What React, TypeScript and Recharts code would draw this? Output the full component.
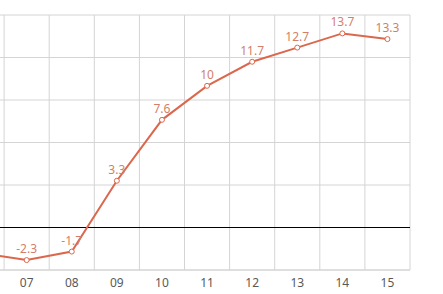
import { LineChart, Line, XAxis, YAxis, CartesianGrid, ReferenceLine, LabelList } from "recharts";

// 年份（06 只露出半截，画在左边界外，不显示文字）
const YEARS = ["06", "07", "08", "09", "10", "11", "12", "13", "14", "15"];
const VALUES = [-1.8, -2.3, -1.7, 3.3, 7.6, 10, 11.7, 12.7, 13.7, 13.3];
const Y_TICKS = [-3, 0, 3, 6, 9, 12, 15];
const HIDDEN_YEAR = "06";

const data = YEARS.map((y, i) => ({
  year: y,
  value: VALUES[i],
  label: y === HIDDEN_YEAR ? null : VALUES[i],
}));

const LINE_COLOR = "#DB674C";
const LABEL_COLOR = "#D27F69";
const GRID_COLOR = "#D4D4D4";

export default function App() {
  return (
    <div style={{ position: "fixed", top: 0, left: 0, width: 443, height: 294, overflow: "hidden", background: "#fff" }}>
      <div style={{ position: "absolute", top: 0, left: -41 }}>
        <LineChart width={461} height={295} data={data}
          margin={{ top: 15, right: 10, left: 0, bottom: 0 }}
          style={{ fontFamily: "'Noto Sans', sans-serif" }}>
          {/* 竖线在类目分界处，按绘图区宽度等分 */}
          <CartesianGrid stroke={GRID_COLOR}
            verticalCoordinatesGenerator={({ offset }: any) =>
              YEARS.map((_, i) => offset.left + (i * offset.width) / YEARS.length).concat(offset.left + offset.width)} />
          <XAxis dataKey="year" scale="point" padding={{ left: 22.55, right: 22.55 }}
            tickLine={false} axisLine={{ stroke: GRID_COLOR }}
            tickFormatter={(v: string) => (v === HIDDEN_YEAR ? "" : v)}
            tick={{ fill: "#595959", fontSize: 12 }} height={25} interval={0} />
          <YAxis hide domain={[-3, 15]} ticks={Y_TICKS} type="number" />
          <ReferenceLine y={0} stroke="#000" strokeWidth={1} />
          <Line type="linear" dataKey="value" stroke={LINE_COLOR} strokeWidth={2}
            dot={{ r: 2.5, fill: "#fff", stroke: LINE_COLOR, strokeWidth: 1 }}
            isAnimationActive={false}>
            <LabelList dataKey="label" position="top" offset={7} fill={LABEL_COLOR} fontSize={12} />
          </Line>
        </LineChart>
      </div>
    </div>
  );
}
